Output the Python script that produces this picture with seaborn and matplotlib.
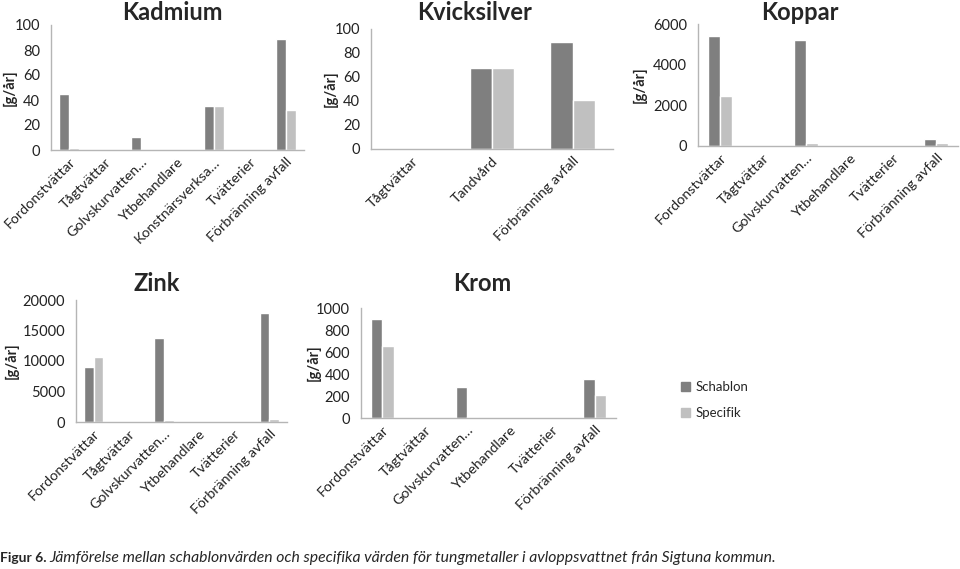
import pandas as pd
import seaborn as sns
import matplotlib.pyplot as plt

# Data: Schablon vs Specifik per verksamhet [g/år]
kadmium_cats = ['Fordonstvättar', 'Tågtvättar', 'Golvskurvatten…', 'Ytbehandlare',
                'Konstnärsverksa…', 'Tvätterier', 'Förbränning avfall']
kadmium_schablon = [45, 0, 10.5, 0, 35.5, 0, 89]
kadmium_specifik = [2, 0, 0, 0, 35.5, 0, 32]

kvicksilver_cats = ['Tågtvättar', 'Tandvård', 'Förbränning avfall']
kvicksilver_schablon = [0, 67.5, 89]
kvicksilver_specifik = [0, 67.5, 41]

metal_cats = ['Fordonstvättar', 'Tågtvättar', 'Golvskurvatten…', 'Ytbehandlare',
              'Tvätterier', 'Förbränning avfall']
koppar_schablon = [5400, 0, 5200, 0, 0, 350]
koppar_specifik = [2450, 0, 130, 0, 0, 170]

zink_schablon = [9000, 0, 13700, 0, 0, 17800]
zink_specifik = [10700, 0, 300, 0, 0, 500]

krom_schablon = [900, 0, 285, 0, 0, 355]
krom_specifik = [655, 0, 5, 0, 0, 205]

series_names = ['Schablon', 'Specifik']
colors = ['#7f7f7f', '#c0c0c0']

W, H = 960, 569

sns.set_style('white')
plt.rcParams['font.family'] = ['Lato', 'DejaVu Sans']

fig = plt.figure(figsize=(W / 100, H / 100), dpi=100)


def px_rect(left, top, right, bottom):
    return [left / W, 1 - bottom / H, (right - left) / W, (bottom - top) / H]


def make_df(cats, schablon, specifik):
    rows = []
    for name, vals in zip(series_names, [schablon, specifik]):
        for c, v in zip(cats, vals):
            rows.append({'kategori': c, 'varde': v, 'typ': name})
    return pd.DataFrame(rows)


def panel(rect, cats, schablon, specifik, ymax, ystep, title, title_xy, ylabel_x):
    ax = fig.add_axes(px_rect(*rect))
    df = make_df(cats, schablon, specifik)
    sns.barplot(data=df, x='kategori', y='varde', hue='typ', order=cats,
                hue_order=series_names, palette=colors, width=0.55,
                saturation=1, legend=False, ax=ax)
    ax.set_ylim(0, ymax)
    ax.set_yticks(range(0, ymax + 1, ystep))
    for s in ['top', 'right']:
        ax.spines[s].set_visible(False)
    for s in ['left', 'bottom']:
        ax.spines[s].set_color('#b5b5b5')
        ax.spines[s].set_linewidth(1)
    ax.tick_params(axis='y', length=3, color='#b5b5b5', labelsize=10.5,
                   pad=5, labelcolor='#222222')
    ax.tick_params(axis='x', length=0, labelsize=10.3, pad=4, labelcolor='#222222')
    plt.setp(ax.get_xticklabels(), rotation=45, ha='right', rotation_mode='anchor')
    ax.set_xlabel('')
    ax.set_ylabel('[g/år]', fontsize=10.5, fontweight='bold')
    left, top, right, bottom = rect
    # ylabel_x is the right edge of the rotated label, in pixels
    ax.yaxis.set_label_coords((ylabel_x - left) / (right - left), 0.5)
    fig.text(title_xy[0] / W, 1 - title_xy[1] / H, title, fontsize=17,
             fontweight='bold', ha='center', va='center')
    return ax


panel((51, 25, 304, 150), kadmium_cats, kadmium_schablon, kadmium_specifik,
      100, 20, 'Kadmium', (172, 12), 17)
panel((371, 29, 613, 149), kvicksilver_cats, kvicksilver_schablon, kvicksilver_specifik,
      100, 20, 'Kvicksilver', (475, 12), 338)
panel((698, 24, 958, 146), metal_cats, koppar_schablon, koppar_specifik,
      6000, 2000, 'Koppar', (800, 12), 647)
panel((76, 300, 287, 422), metal_cats, zink_schablon, zink_specifik,
      20000, 5000, 'Zink', (157, 283), 19)
panel((361, 308, 616, 418), metal_cats, krom_schablon, krom_specifik,
      1000, 200, 'Krom', (482, 283), 321)

handles = [plt.Rectangle((0, 0), 1, 1, color=c) for c in colors]
fig.legend(handles, series_names, loc='upper left',
           bbox_to_anchor=(669 / W, 1 - 369 / H), frameon=False, fontsize=9.5,
           handlelength=0.7, handleheight=0.7, handletextpad=0.4, labelspacing=1.1)

cap_y = 1 - 558 / H
bold = fig.text(0, cap_y, 'Figur 6.', fontsize=10, fontweight='bold', va='center')
fig.canvas.draw()
bb = bold.get_window_extent()
fig.text((bb.x1 + 3) / W, cap_y,
         'Jämförelse mellan schablonvärden och specifika värden för tungmetaller '
         'i avloppsvattnet från Sigtuna kommun.',
         fontsize=11.3, fontstyle='italic', va='center')

fig.savefig('out.png', dpi=100)
